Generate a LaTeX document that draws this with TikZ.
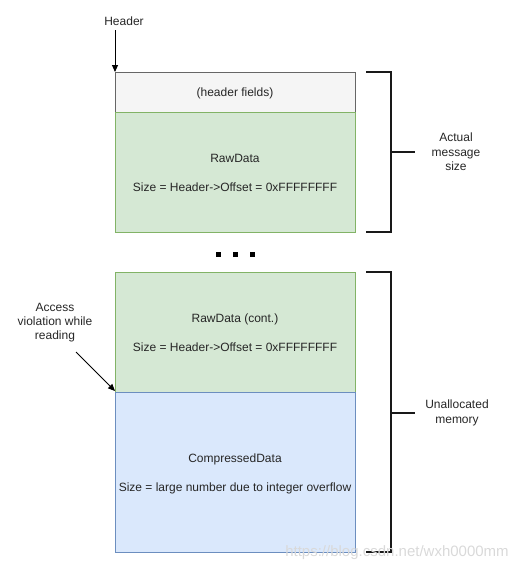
\documentclass[tikz,border=0pt]{standalone}
\usepackage{fontspec}
\setmainfont{Liberation Sans}
\usetikzlibrary{arrows.meta}
\definecolor{hdrfill}{HTML}{F5F5F5}
\definecolor{hdrline}{HTML}{666666}
\definecolor{grnfill}{HTML}{D5E8D4}
\definecolor{grnline}{HTML}{82B366}
\definecolor{blufill}{HTML}{DAE8FC}
\definecolor{bluline}{HTML}{6C8EBF}
\begin{document}
\begin{tikzpicture}[x=1pt,y=-1pt,
  lbl/.style={font=\fontsize{12}{14}\selectfont, align=center, text=black!85},
  memrect/.style={line width=0.8pt},
  brace/.style={line width=1.4pt, black!90},
  arr/.style={line width=0.9pt, -{Triangle[length=7pt,width=6pt]}}]
\useasboundingbox (0,0) rectangle (523,574);
% boxes
\draw[memrect, fill=hdrfill, draw=hdrline] (115,72) rectangle (355,112);
\draw[memrect, fill=grnfill, draw=grnline] (115,112) rectangle (355,232);
\draw[memrect, fill=grnfill, draw=grnline] (115,272) rectangle (355,392);
\draw[memrect, fill=blufill, draw=bluline] (115,392) rectangle (355,552);
\draw[hdrline, line width=0.8pt] (115,72) -- (115,112);
% texts in boxes
\node[lbl] (hf) at (235,93) {(header fields)};
\node[lbl] (rd) at (235,158) {RawData};
\node[lbl] (rds) at (235,187) {Size = Header-{}>Offset = 0xFFFFFFFF};
\node[lbl] (rdc) at (235,319) {RawData (cont.)};
\node[lbl] (rdcs) at (235,347) {Size = Header-{}>Offset = 0xFFFFFFFF};
\node[lbl] (cd) at (235,459) {CompressedData};
\node[lbl] (cds) at (235,488) {Size = large number due to integer overflow};
% dots
\foreach \xx in {218.5,235.5,252.5} \fill[black] (\xx-2.5,251.5) rectangle (\xx+2.5,256.5);
% header arrow
\node[lbl] (hdr) at (124,21) {Header};
\coordinate (hs) at (115,30);
\coordinate (he) at (115,72);
\draw[arr] (hs) -- (he);
% access violation
\node[lbl, font=\fontsize{12}{14}\selectfont] (av) at (55,323) {Access\\violation while\\reading};
\coordinate (as) at (76,352);
\coordinate (ae) at (115,391);
\draw[arr] (as) -- (ae);
% brackets
\draw[brace] (366,72) -- (391,72) -- (391,232) -- (366,232);
\draw[brace] (391,152) -- (415,152);
\node[lbl, font=\fontsize{12}{14.5}\selectfont] (ams) at (456,152) {Actual\\message\\size};
\draw[brace] (366,272) -- (391,272) -- (391,552) -- (366,552);
\draw[brace] (391,413) -- (415,413);
\node[lbl, font=\fontsize{12}{14.5}\selectfont] (um) at (457,413) {Unallocated\\memory};
% watermark
\node[font=\fontsize{15}{17}\selectfont, text=black!15] (wm) at (397,553) {https://blog.csdn.net/wxh0000mm};
\end{tikzpicture}
\end{document}
